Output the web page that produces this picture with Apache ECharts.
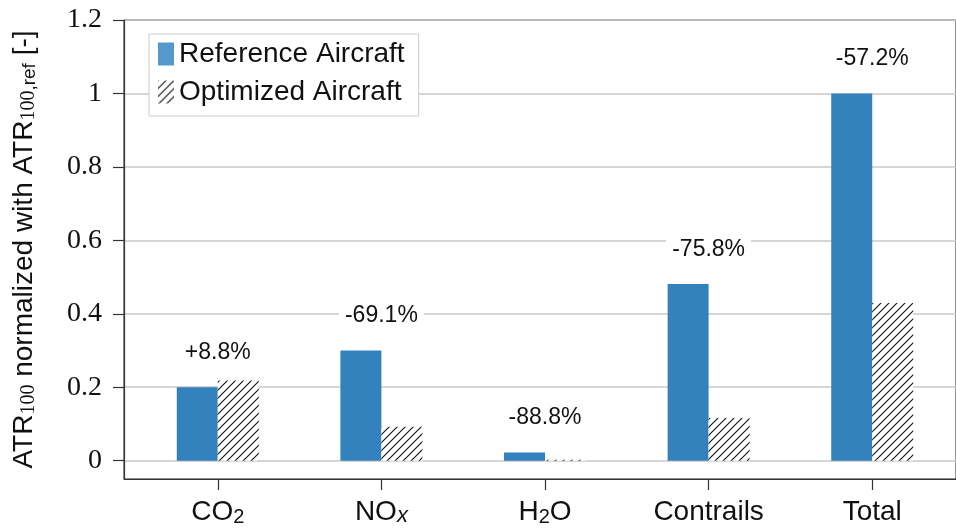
<!DOCTYPE html>
<html>
<head>
<meta charset="utf-8">
<script src="https://cdn.jsdelivr.net/npm/echarts@6/dist/echarts.min.js"></script>
<style>
    html, body { margin: 0; padding: 0; background: #fff; }
    #chart { width: 956px; height: 529px; }
</style>
</head>
<body>
<div id="chart"></div>
<script>
    // categories (position on x axis = index)
    let categories = ['CO2', 'NOx', 'H2O', 'Contrails', 'Total'];
    // rich text version of the category names (subscripts)
    let categoryLabels = ['{a|CO}{s|2}', '{a|NO}{i|x}', '{a|H}{s|2}{a|O}', '{a|Contrails}', '{a|Total}'];
    // y ticks
    let yTicks = [0, 0.2, 0.4, 0.6, 0.8, 1, 1.2];
    // ATR100 normalized values
    let refValues = [0.200, 0.300, 0.022, 0.481, 1.000];
    let optValues = [0.218, 0.0925, 0.0025, 0.116, 0.429];
    // change labels
    let changeLabels = ['+8.8%', '-69.1%', '-88.8%', '-75.8%', '-57.2%'];

    //hatch pattern for optimized aircraft
    function hatch() {
        let c = document.createElement('canvas');
        c.width = 8;
        c.height = 8;
        let ctx = c.getContext('2d');
        ctx.fillStyle = '#fff';
        ctx.fillRect(0, 0, 8, 8);
        ctx.strokeStyle = '#111';
        ctx.lineWidth = 1.1;
        ctx.beginPath();
        ctx.moveTo(0, 8); ctx.lineTo(8, 0);
        ctx.moveTo(-1, 1); ctx.lineTo(1, -1);
        ctx.moveTo(7, 9); ctx.lineTo(9, 7);
        ctx.stroke();
        return c;
    }
    let hatchPattern = {image: hatch(), repeat: 'repeat'};

    let sans = '"Liberation Sans", Arial, sans-serif';
    let serif = '"Liberation Serif", "Times New Roman", serif';
    let blue = '#3382be';
    let axisColor = '#333';

    let myChart = echarts.init(document.getElementById('chart'));
    let option = {
        animation: false,
        grid: {
            show: true,
            left: 124,
            top: 20,
            right: -2,
            bottom: 50,
            borderColor: '#222',
            borderWidth: 1
        },
        legend: {
            orient: 'vertical',
            left: 149,
            top: 34,
            padding: [6, 14, 10, 9],
            itemWidth: 16,
            itemHeight: 23,
            itemGap: 10,
            borderColor: '#cccccc',
            borderWidth: 1,
            backgroundColor: '#fff',
            textStyle: {fontFamily: sans, fontSize: 28, color: '#111'},
            data: [
                {name: 'Reference Aircraft', icon: 'rect', itemStyle: {color: '#5599cc'}},
                {name: 'Optimized Aircraft', icon: 'rect'}
            ]
        },
        xAxis: {
            type: 'value',
            min: -0.5732,
            max: 4.512,
            splitLine: {show: false},
            axisLine: {show: true, onZero: false, lineStyle: {color: axisColor, width: 1.2}},
            axisTick: {
                show: true,
                length: 11,
                customValues: [0, 1, 2, 3, 4],
                lineStyle: {color: axisColor, width: 1.2}
            },
            axisLabel: {
                customValues: [0, 1, 2, 3, 4],
                margin: 18,
                formatter: function (v) {
                    return categoryLabels[Math.round(v)];
                },
                rich: {
                    a: {fontFamily: sans, fontSize: 28, color: '#111', lineHeight: 30},
                    s: {fontFamily: sans, fontSize: 20, color: '#111', lineHeight: 14, verticalAlign: 'bottom'},
                    i: {fontFamily: sans, fontSize: 22, fontStyle: 'italic', color: '#111', lineHeight: 14, verticalAlign: 'bottom'}
                }
            }
        },
        yAxis: {
            type: 'value',
            min: -0.05,
            max: 1.2,
            splitNumber: 6,
            name: '{a|ATR}{s|100}{a| normalized with ATR}{s|100}{r|,ref}{a| [-]}',
            nameLocation: 'middle',
            nameGap: 85,
            nameTextStyle: {
                rich: {
                    a: {fontFamily: sans, fontSize: 28, color: '#111', lineHeight: 30},
                    s: {fontFamily: serif, fontSize: 20, color: '#111', lineHeight: 14, verticalAlign: 'bottom'},
                    r: {fontFamily: sans, fontSize: 19, color: '#111', lineHeight: 14, verticalAlign: 'bottom'}
                }
            },
            axisLine: {show: true, onZero: false, lineStyle: {color: axisColor, width: 1.2}},
            axisTick: {show: true, length: 11, customValues: yTicks, lineStyle: {color: axisColor, width: 1.2}},
            axisLabel: {
                customValues: yTicks,
                fontFamily: serif,
                fontSize: 28,
                color: '#111',
                margin: 22,
                formatter: function (v) {
                    return String(+v.toFixed(1));
                }
            },
            splitLine: {show: true, lineStyle: {color: '#c8c8c8', width: 1.5}}
        },
        series: [
            {
                name: 'Reference Aircraft',
                type: 'bar',
                barWidth: 41,
                barGap: '0%',
                data: refValues.map((v, i) => [i, v]),
                itemStyle: {color: blue},
                label: {
                    show: true,
                    position: 'top',
                    distance: 21,
                    offset: [20.5, 0],
                    fontFamily: sans,
                    fontSize: 23,
                    color: '#111',
                    backgroundColor: '#fff',
                    padding: [2, 6],
                    formatter: function (p) {
                        return changeLabels[p.dataIndex];
                    }
                }
            },
            {
                name: 'Optimized Aircraft',
                type: 'bar',
                barWidth: 41,
                barGap: '0%',
                data: optValues.map((v, i) => [i, v]),
                itemStyle: {color: hatchPattern}
            }
        ]
    };
    myChart.setOption(option);
</script>
</body>
</html>
